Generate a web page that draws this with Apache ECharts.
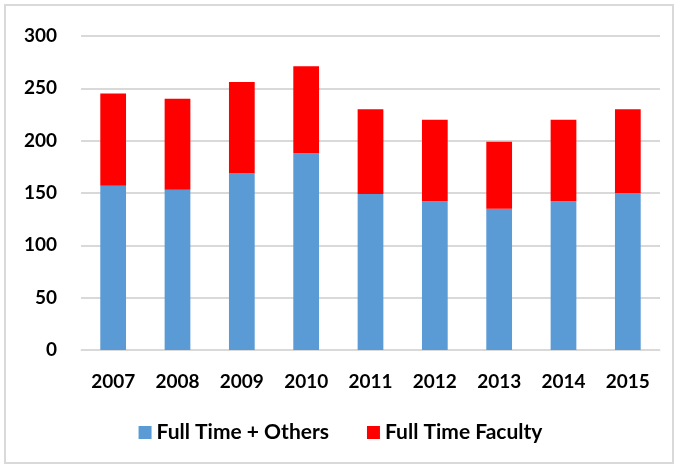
<!DOCTYPE html>
<html>
<head>
<meta charset="utf-8">
<script src="https://cdn.jsdelivr.net/npm/echarts@6/dist/echarts.min.js"></script>
<style>
  html, body { margin: 0; padding: 0; background: #fff; }
  .frame {
    position: absolute;
    left: 4px;
    top: 4px;
    width: 670px;
    height: 460px;
    border: 2px solid #d9d9d9;
    box-sizing: border-box;
  }
  #chart { position: absolute; left: 0; top: 0; width: 681px; height: 469px; }
</style>
</head>
<body>
<div class="frame"></div>
<div id="chart"></div>
<script>
  const years = ["2007", "2008", "2009", "2010", "2011", "2012", "2013", "2014", "2015"];
  const fullTimeOthers = [157, 153, 169, 188, 149, 142, 135, 142, 150];
  const fullTimeFaculty = [88, 87, 87, 83, 81, 78, 64, 78, 80];

  const font = "Lato, 'Open Sans', sans-serif";

  const chart = echarts.init(document.getElementById("chart"));
  chart.setOption({
    animation: false,
    grid: {
      left: 81,
      right: 21,
      top: 36,
      bottom: 119,
    },
    legend: {
      bottom: 21,
      left: "center",
      itemWidth: 13,
      itemHeight: 13,
      itemGap: 38,
      icon: "rect",
      textStyle: {
        fontFamily: font,
        fontWeight: "bold",
        fontSize: 21,
        color: "#000",
      },
      data: ["Full Time + Others", "Full Time Faculty"],
    },
    xAxis: {
      type: "category",
      data: years,
      axisTick: { show: false },
      axisLine: { lineStyle: { color: "#d9d9d9", width: 1 } },
      axisLabel: {
        margin: 22,
        fontFamily: font,
        fontWeight: "bold",
        fontSize: 19,
        color: "#000",
      },
    },
    yAxis: {
      type: "value",
      min: 0,
      max: 300,
      interval: 50,
      axisLine: { show: false },
      axisTick: { show: false },
      axisLabel: {
        margin: 24,
        fontFamily: font,
        fontWeight: "bold",
        fontSize: 19,
        color: "#000",
      },
      splitLine: {
        lineStyle: { color: "#d9d9d9", width: 2 },
      },
    },
    series: [
      {
        name: "Full Time + Others",
        type: "bar",
        stack: "total",
        barWidth: "40%",
        itemStyle: { color: "#5b9bd5" },
        data: fullTimeOthers,
      },
      {
        name: "Full Time Faculty",
        type: "bar",
        stack: "total",
        barWidth: "40%",
        itemStyle: { color: "#ff0000" },
        data: fullTimeFaculty,
      },
    ],
  });
</script>
</body>
</html>
